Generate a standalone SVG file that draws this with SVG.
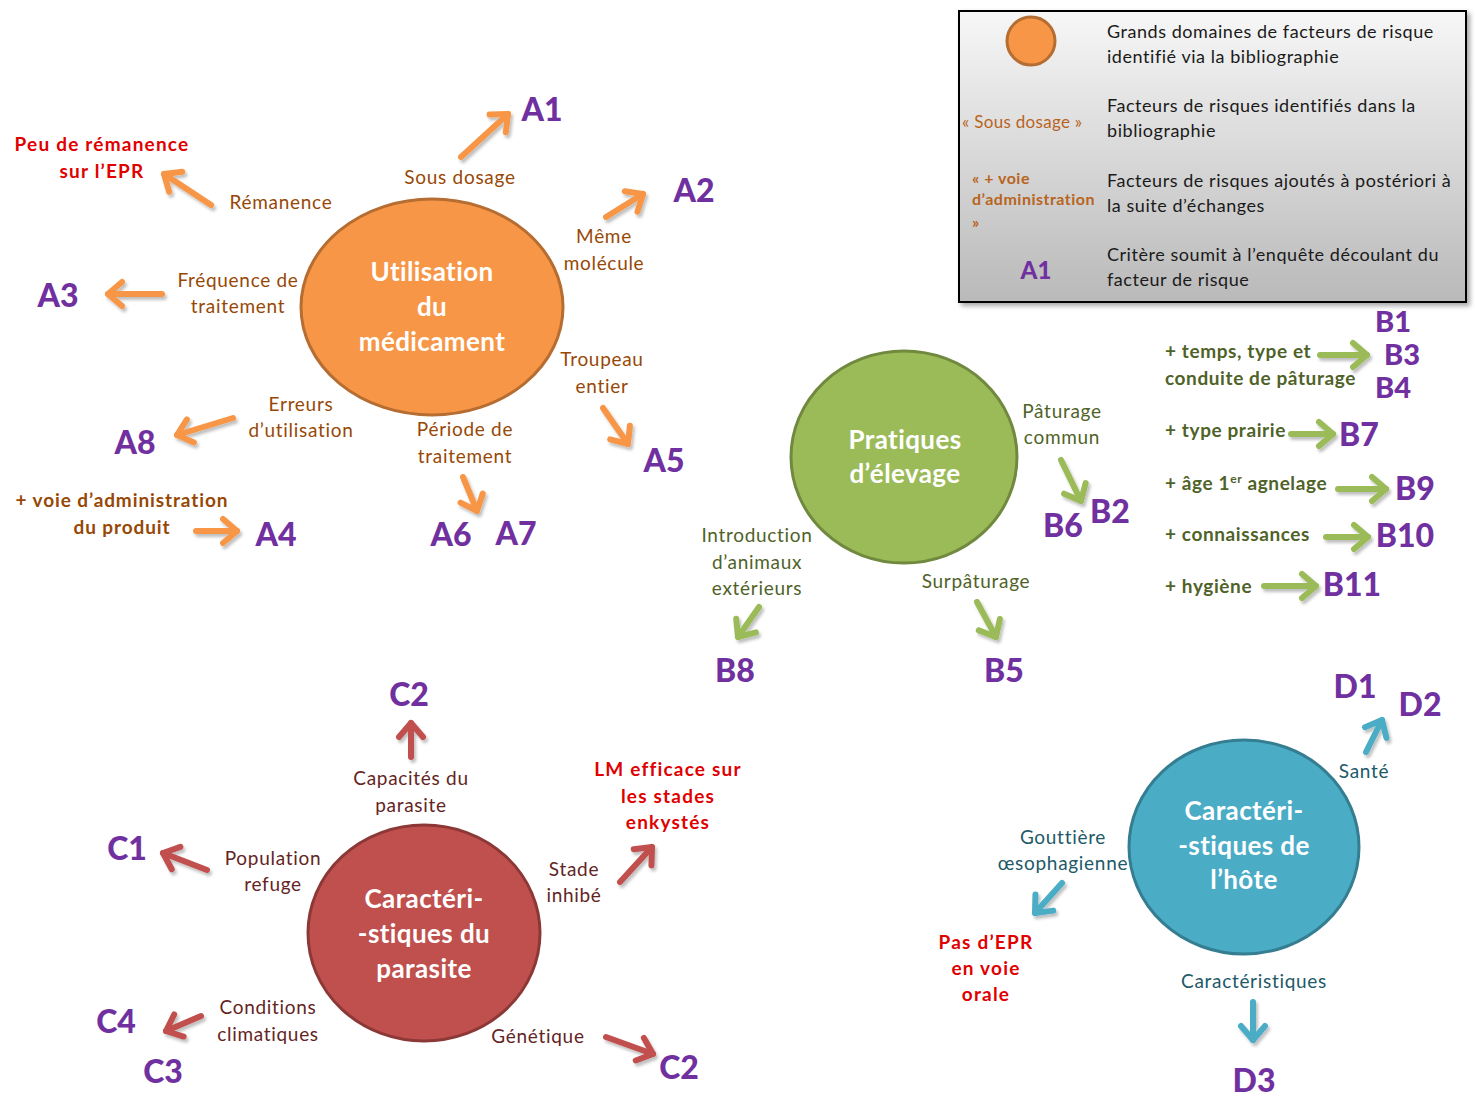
<svg xmlns="http://www.w3.org/2000/svg" width="1475" height="1097" viewBox="0 0 1475 1097">
<defs>
<linearGradient id="lg" x1="0" y1="0" x2="0" y2="1">
<stop offset="0" stop-color="#f7f7f7"/>
<stop offset="1" stop-color="#b9b9b9"/>
</linearGradient>
<filter id="sh" x="-10%" y="-10%" width="130%" height="130%">
<feDropShadow dx="3" dy="3" stdDeviation="2.5" flood-color="#000" flood-opacity="0.35"/>
</filter>
<filter id="ash" x="-50%" y="-50%" width="200%" height="200%">
<feDropShadow dx="2" dy="3" stdDeviation="1.5" flood-color="#000" flood-opacity="0.25"/>
</filter>
<marker id="mo" viewBox="-22 -18 30 36" markerWidth="30" markerHeight="36" refX="0" refY="0" orient="auto" markerUnits="userSpaceOnUse"><path d="M-14,-12 L0,0 L-14,12" fill="none" stroke="#F79646" stroke-width="6" stroke-linecap="round" stroke-linejoin="round"/></marker>
<marker id="mg" viewBox="-22 -18 30 36" markerWidth="30" markerHeight="36" refX="0" refY="0" orient="auto" markerUnits="userSpaceOnUse"><path d="M-14,-12 L0,0 L-14,12" fill="none" stroke="#9BBB59" stroke-width="6" stroke-linecap="round" stroke-linejoin="round"/></marker>
<marker id="mr" viewBox="-22 -18 30 36" markerWidth="30" markerHeight="36" refX="0" refY="0" orient="auto" markerUnits="userSpaceOnUse"><path d="M-14,-12 L0,0 L-14,12" fill="none" stroke="#C0504D" stroke-width="6" stroke-linecap="round" stroke-linejoin="round"/></marker>
<marker id="mb" viewBox="-22 -18 30 36" markerWidth="30" markerHeight="36" refX="0" refY="0" orient="auto" markerUnits="userSpaceOnUse"><path d="M-14,-12 L0,0 L-14,12" fill="none" stroke="#4BACC6" stroke-width="6" stroke-linecap="round" stroke-linejoin="round"/></marker>
</defs>
<style>
text{font-family:Lato,"Open Sans","Liberation Sans",sans-serif;}
.c{text-anchor:middle;}
.lo{font-size:19px;fill:#974806;letter-spacing:0.7px;}
.lg{font-size:19px;fill:#4F6228;letter-spacing:0.7px;}
.lr{font-size:19px;fill:#632423;letter-spacing:0.7px;}
.lb{font-size:19px;fill:#215968;letter-spacing:0.7px;}
.bo{font-size:19px;font-weight:bold;fill:#974806;letter-spacing:0.9px;}
.bg{font-size:19px;font-weight:bold;fill:#4F6228;letter-spacing:0.6px;}
.red{font-size:19px;font-weight:bold;fill:#E00000;letter-spacing:1.2px;}
.code{font-size:32px;font-weight:900;fill:#7030A0;text-anchor:middle;}
.ct{font-size:26px;font-weight:bold;fill:#fff;text-anchor:middle;letter-spacing:0.4px;}
.leg{font-size:18px;fill:#1a1a1a;letter-spacing:0.55px;}
.ao line{stroke:#F79646;stroke-width:6;stroke-linecap:round;marker-end:url(#mo);}
.ag line{stroke:#9BBB59;stroke-width:6;stroke-linecap:round;marker-end:url(#mg);}
.ar line{stroke:#C0504D;stroke-width:6;stroke-linecap:round;marker-end:url(#mr);}
.ab line{stroke:#4BACC6;stroke-width:6;stroke-linecap:round;marker-end:url(#mb);}
</style>
<rect width="1475" height="1097" fill="#fff"/>

<g id="legend">
<rect x="959" y="11" width="507" height="291" fill="url(#lg)" stroke="#000" stroke-width="2" filter="url(#sh)"/>
<circle cx="1031" cy="41" r="24" fill="#F79646" stroke="#B66D31" stroke-width="3"/>
<text class="leg" x="1107" y="38">Grands domaines de facteurs de risque</text>
<text class="leg" x="1107" y="63">identifié via la bibliographie</text>
<text x="962" y="128" style="font-size:17px;fill:#B8641E;letter-spacing:0.3px">« Sous dosage »</text>
<text class="leg" x="1107" y="112">Facteurs de risques identifiés dans la</text>
<text class="leg" x="1107" y="137">bibliographie</text>
<text x="972" y="184" style="font-size:16px;font-weight:bold;fill:#B8641E;letter-spacing:0.5px">« + voie</text>
<text x="972" y="205" style="font-size:16px;font-weight:bold;fill:#B8641E;letter-spacing:0.5px">d’administration</text>
<text x="972" y="228" style="font-size:16px;font-weight:bold;fill:#B8641E">»</text>
<text class="leg" x="1107" y="187">Facteurs de risques ajoutés à postériori à</text>
<text class="leg" x="1107" y="212">la suite d’échanges</text>
<text class="code" x="1036" y="279" style="font-size:24px">A1</text>
<text class="leg" x="1107" y="261">Critère soumit à l’enquête découlant du</text>
<text class="leg" x="1107" y="286">facteur de risque</text>
</g>

<g id="connectors" filter="url(#ash)">
<g class="ao">
<line x1="461" y1="157" x2="508" y2="114"/>
<line x1="606" y1="217" x2="643" y2="194"/>
<line x1="211" y1="205" x2="164" y2="174"/>
<line x1="162" y1="294" x2="108" y2="294"/>
<line x1="233" y1="418" x2="177" y2="435"/>
<line x1="603" y1="408" x2="628" y2="444"/>
<line x1="463" y1="477" x2="477" y2="511"/>
<line x1="196" y1="531" x2="237" y2="531"/>
</g>
<g class="ag">
<line x1="1061" y1="460" x2="1081" y2="501"/>
<line x1="759" y1="607" x2="738" y2="637"/>
<line x1="977" y1="602" x2="996" y2="637"/>
<line x1="1320" y1="355" x2="1367" y2="355"/>
<line x1="1291" y1="434" x2="1333" y2="434"/>
<line x1="1338" y1="489" x2="1386" y2="489"/>
<line x1="1326" y1="537" x2="1368" y2="537"/>
<line x1="1264" y1="586" x2="1316" y2="586"/>
</g>
<g class="ar">
<line x1="411" y1="757" x2="411" y2="723"/>
<line x1="207" y1="870" x2="163" y2="853"/>
<line x1="201" y1="1016" x2="166" y2="1031"/>
<line x1="620" y1="882" x2="652" y2="847"/>
<line x1="606" y1="1037" x2="653" y2="1054"/>
</g>
<g class="ab">
<line x1="1366" y1="752" x2="1382" y2="720"/>
<line x1="1062" y1="883" x2="1035" y2="913"/>
<line x1="1253" y1="1002" x2="1253" y2="1040"/>
</g>
</g>

<g id="node-medicament">
<ellipse cx="432" cy="307" rx="131" ry="108" fill="#F79646" stroke="#B66D31" stroke-width="3"/>
<text class="ct" x="432" y="281">Utilisation</text>
<text class="ct" x="432" y="316">du</text>
<text class="ct" x="432" y="351">médicament</text>
</g>
<g id="labels-A">
<text class="red c" x="102" y="151">Peu de rémanence</text>
<text class="red c" x="102" y="178">sur l’EPR</text>
<text class="lo c" x="281" y="209">Rémanence</text>
<text class="lo c" x="460" y="184">Sous dosage</text>
<text class="code" x="542" y="121">A1</text>
<text class="lo c" x="604" y="243">Même</text>
<text class="lo c" x="604" y="270">molécule</text>
<text class="code" x="694" y="202">A2</text>
<text class="lo c" x="238" y="287">Fréquence de</text>
<text class="lo c" x="238" y="313">traitement</text>
<text class="code" x="58" y="307">A3</text>
<text class="lo c" x="602" y="366">Troupeau</text>
<text class="lo c" x="602" y="393">entier</text>
<text class="lo c" x="301" y="411">Erreurs</text>
<text class="lo c" x="301" y="437">d’utilisation</text>
<text class="code" x="135" y="454">A8</text>
<text class="lo c" x="465" y="436">Période de</text>
<text class="lo c" x="465" y="463">traitement</text>
<text class="code" x="664" y="472">A5</text>
<text class="bo c" x="122" y="507">+ voie d’administration</text>
<text class="bo c" x="122" y="534">du produit</text>
<text class="code" x="276" y="546">A4</text>
<text class="code" x="451" y="546">A6</text>
<text class="code" x="516" y="545">A7</text>
</g>

<g id="node-elevage">
<ellipse cx="904" cy="457" rx="113" ry="106" fill="#9BBB59" stroke="#71893F" stroke-width="3"/>
<text class="ct" x="905" y="449">Pratiques</text>
<text class="ct" x="905" y="483">d’élevage</text>
</g>
<g id="labels-B">
<text class="lg c" x="1062" y="418">Pâturage</text>
<text class="lg c" x="1062" y="444">commun</text>
<text class="code" x="1063" y="537">B6</text>
<text class="code" x="1110" y="523">B2</text>
<text class="lg c" x="757" y="542">Introduction</text>
<text class="lg c" x="757" y="569">d’animaux</text>
<text class="lg c" x="757" y="595">extérieurs</text>
<text class="lg c" x="976" y="588">Surpâturage</text>
<text class="code" x="735" y="682">B8</text>
<text class="code" x="1004" y="682">B5</text>
<text class="bg" x="1165" y="358">+ temps, type et</text>
<text class="bg" x="1165" y="385">conduite de pâturage</text>
<text class="code" x="1393" y="332" style="font-size:29px">B1</text>
<text class="code" x="1402" y="365" style="font-size:29px">B3</text>
<text class="code" x="1393" y="398" style="font-size:29px">B4</text>
<text class="bg" x="1165" y="437">+ type prairie</text>
<text class="code" x="1359" y="446">B7</text>
<text class="bg" x="1165" y="490">+ âge 1<tspan dy="-7" font-size="12">er</tspan><tspan dy="7"> agnelage</tspan></text>
<text class="code" x="1415" y="500">B9</text>
<text class="bg" x="1165" y="541">+ connaissances</text>
<text class="code" x="1405" y="547">B10</text>
<text class="bg" x="1165" y="593">+ hygiène</text>
<text class="code" x="1352" y="596">B11</text>
</g>

<g id="node-parasite">
<ellipse cx="424" cy="933" rx="116" ry="108" fill="#C0504D" stroke="#8C3836" stroke-width="3"/>
<text class="ct" x="424" y="908">Caractéri-</text>
<text class="ct" x="424" y="943">-stiques du</text>
<text class="ct" x="424" y="978">parasite</text>
</g>
<g id="labels-C">
<text class="code" x="409" y="706">C2</text>
<text class="lr c" x="411" y="785">Capacités du</text>
<text class="lr c" x="411" y="812">parasite</text>
<text class="red c" x="668" y="776">LM efficace sur</text>
<text class="red c" x="668" y="803">les stades</text>
<text class="red c" x="668" y="829">enkystés</text>
<text class="code" x="127" y="860">C1</text>
<text class="lr c" x="273" y="865">Population</text>
<text class="lr c" x="273" y="891">refuge</text>
<text class="lr c" x="574" y="876">Stade</text>
<text class="lr c" x="574" y="902">inhibé</text>
<text class="lr c" x="268" y="1014">Conditions</text>
<text class="lr c" x="268" y="1041">climatiques</text>
<text class="code" x="116" y="1033">C4</text>
<text class="code" x="163" y="1083">C3</text>
<text class="lr c" x="538" y="1043">Génétique</text>
<text class="code" x="679" y="1079">C2</text>
</g>

<g id="node-hote">
<ellipse cx="1244" cy="847" rx="115" ry="107" fill="#4BACC6" stroke="#357D91" stroke-width="3"/>
<text class="ct" x="1244" y="820">Caractéri-</text>
<text class="ct" x="1244" y="855">-stiques de</text>
<text class="ct" x="1244" y="889">l’hôte</text>
</g>
<g id="labels-D">
<text class="code" x="1355" y="698">D1</text>
<text class="code" x="1420" y="716">D2</text>
<text class="lb c" x="1364" y="778">Santé</text>
<text class="lb c" x="1063" y="844">Gouttière</text>
<text class="lb c" x="1063" y="870">œsophagienne</text>
<text class="red c" x="986" y="949">Pas d’EPR</text>
<text class="red c" x="986" y="975">en voie</text>
<text class="red c" x="986" y="1001">orale</text>
<text class="lb c" x="1254" y="988">Caractéristiques</text>
<text class="code" x="1254" y="1092">D3</text>
</g>
</svg>
